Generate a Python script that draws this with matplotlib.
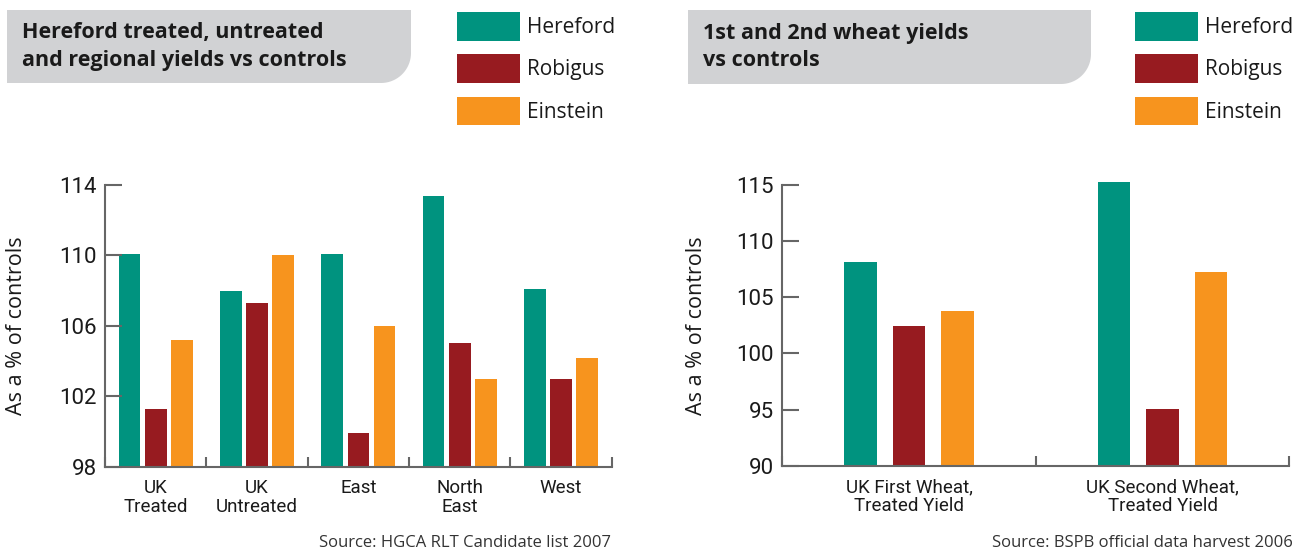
import numpy as np
import matplotlib
matplotlib.use("Agg")
import matplotlib.pyplot as plt
from matplotlib import font_manager
from matplotlib.patches import PathPatch
from matplotlib.path import Path
from matplotlib.transforms import Affine2D

# data
varieties = ["Hereford", "Robigus", "Einstein"]
colors = ["#00937f", "#971b20", "#f7941e"]

regions = ["UK\nTreated", "UK\nUntreated", "East", "North\nEast", "West"]
hereford_reg = [110.1, 108.0, 110.1, 113.4, 108.1]
robigus_reg = [101.3, 107.3, 99.9, 105.0, 103.0]
einstein_reg = [105.2, 110.0, 106.0, 103.0, 104.2]
ticks_reg = [98, 102, 106, 110, 114]

wheats = ["UK First Wheat,\nTreated Yield", "UK Second Wheat,\nTreated Yield"]
hereford_wh = [108.1, 115.2]
robigus_wh = [102.4, 95.1]
einstein_wh = [103.8, 107.2]
ticks_wh = [90, 95, 100, 105, 110, 115]

W, H = 1306, 553
names = set(f.name for f in font_manager.fontManager.ttflist)
narrow = "Liberation Sans Narrow" if "Liberation Sans Narrow" in names else "Roboto"
plt.rcParams['font.family'] = 'Open Sans'
TXT = "#1a1a1a"
SP = "#666666"

fig = plt.figure(figsize=(W / 100, H / 100), dpi=100)
px = Affine2D().scale(1 / W, -1 / H).translate(0, 1) + fig.transFigure


def title_box(x0, x1, y0, y1, r, text):
    t = np.linspace(0, np.pi / 2, 20)
    arc = np.column_stack([x1 - r + r * np.cos(t), y1 - r + r * np.sin(t)])
    verts = np.vstack([[x0, y0], [x1, y0], arc, [x0, y1], [x0, y0]])
    codes = [Path.MOVETO] + [Path.LINETO] * (len(verts) - 2) + [Path.CLOSEPOLY]
    fig.patches.append(PathPatch(Path(verts, codes), transform=px, facecolor="#d1d2d4",
                                 edgecolor="none"))
    fig.text((x0 + 15) / W, 1 - (y0 + y1) / 2 / H, text, fontsize=15.5, fontweight="bold",
             color=TXT, va="center", ha="left", linespacing=1.38)


def chart(ax, cats, series, ylim, yticks, width, step, source, src_x):
    x = np.arange(len(cats))
    bars = []
    for i, vals in enumerate(series):
        v = np.array(vals)
        b = ax.bar(x + (i - 1) * step, v - ylim[0], bottom=ylim[0], width=width,
                   color=colors[i], clip_on=False, label=varieties[i], zorder=1)
        bars.append(b)
    ax.set_xlim(-0.5, len(cats) - 0.5)
    ax.set_ylim(*ylim)
    ax.set_yticks(yticks)
    ax.set_xticks(np.arange(len(cats) + 1) - 0.5)
    ax.set_xticklabels([])
    ax.set_xticks(x, minor=True)
    ax.set_xticklabels(cats, minor=True, family=narrow, fontsize=13.5, color=TXT,
                       linespacing=1.05)
    ax.tick_params(axis="x", which="minor", length=0, pad=9)
    ax.tick_params(axis="x", which="major", direction="in", length=7, width=1.5, color=SP)
    ax.tick_params(axis="y", direction="in", length=12, width=1.5, color=SP, pad=6,
                   labelsize=16, labelcolor=TXT)
    for lab in ax.get_yticklabels():
        lab.set_family(narrow)
    for s in ["top", "right"]:
        ax.spines[s].set_visible(False)
    for s in ["left", "bottom"]:
        ax.spines[s].set_color(SP)
        ax.spines[s].set_linewidth(1.5)
    ax.set_ylabel("As a % of controls", fontsize=15.5, color=TXT)
    fig.text(src_x / W, 1 - 543 / H, source, ha="right", va="center", fontsize=12, color="#333333")
    return bars


ax1 = fig.add_axes([105 / W, 1 - 466.7 / H, 506.7 / W, 281.7 / H])
b1 = chart(ax1, regions, [hereford_reg, robigus_reg, einstein_reg], (98, 114), ticks_reg,
           0.214, 0.257, "Source: HGCA RLT Candidate list 2007", 611)
ax1.yaxis.set_label_coords(-0.154, 0.5)

ax2 = fig.add_axes([782.3 / W, 1 - 466 / H, 507 / W, 281.3 / H])
b2 = chart(ax2, wheats, [hereford_wh, robigus_wh, einstein_wh], (90, 115), ticks_wh,
           0.129, 0.191, "Source: BSPB official data harvest 2006", 1293)
ax2.yaxis.set_label_coords(-0.148, 0.5)

title_box(7, 411, 10, 83, 30, "Hereford treated, untreated\nand regional yields vs controls")
title_box(688, 1091, 10, 84, 30, "1st and 2nd wheat yields\nvs controls")

for bars, lx in [(b1, 457), (b2, 1135)]:
    fig.legend(handles=bars, labels=varieties, loc="upper left",
               bbox_to_anchor=(lx / W, 1 - 12 / H), frameon=False, fontsize=15,
               handlelength=3.0, handleheight=1.75, handletextpad=0.35,
               labelspacing=0.65, borderpad=0, borderaxespad=0, labelcolor=TXT)

fig.savefig("out.png", dpi=100)
